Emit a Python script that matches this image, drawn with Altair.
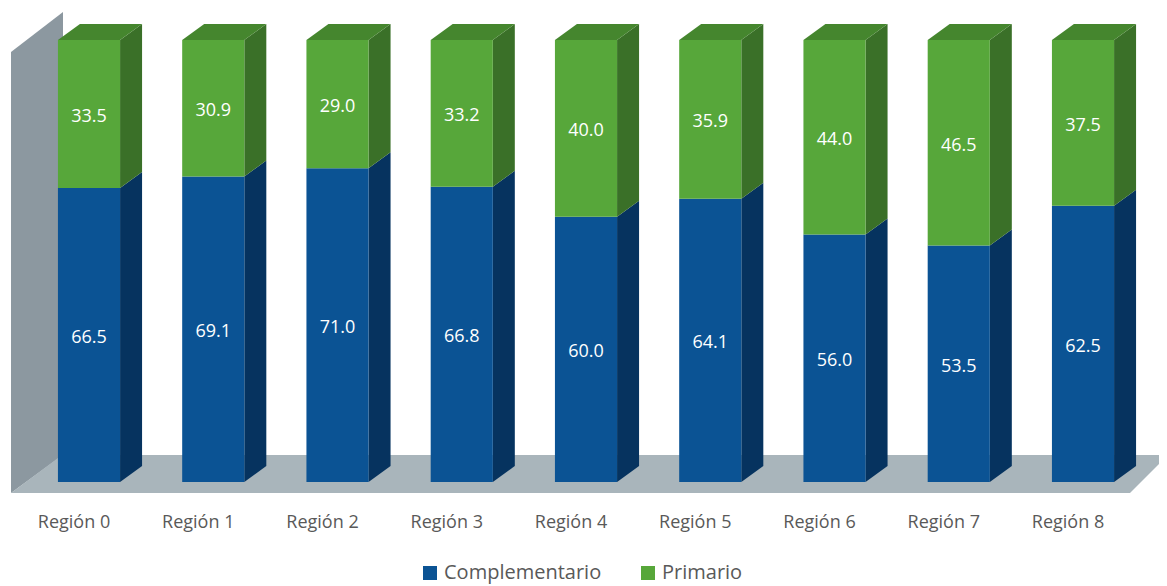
import altair as alt
import pandas as pd

# ---- data ----
regions = ["Región 0", "Región 1", "Región 2", "Región 3", "Región 4",
           "Región 5", "Región 6", "Región 7", "Región 8"]
complementario = [66.5, 69.1, 71.0, 66.8, 60.0, 64.1, 56.0, 53.5, 62.5]
primario = [33.5, 30.9, 29.0, 33.2, 40.0, 35.9, 44.0, 46.5, 37.5]
series_names = ["Complementario", "Primario"]

# ---- style / geometry ----
BLUE, BLUE_SIDE = "#0B5394", "#06335F"
GREEN, GREEN_SIDE, GREEN_TOP = "#57A73A", "#3A7028", "#45862E"
WALL, FLOOR = "#8C98A0", "#A9B5BB"
FONT = "Open Sans"

W, H = 1151, 578
PX_X, PX_Y = 124.25, 4.42          # pixels per data unit
X0 = -(89 - 8) / PX_X
X1 = X0 + W / PX_X
Y1 = (482 - 8) / PX_Y
Y0 = Y1 - H / PX_Y
HALF = 0.25                         # half bar width (category units)
DX = 22 / PX_X                      # depth offset x
DY = 16 / PX_Y                      # depth offset y

xs = alt.Scale(domain=[X0, X1], nice=False, zero=False)
ys = alt.Scale(domain=[Y0, Y1], nice=False, zero=False)

# ---- tables built from the arrays ----
front, side, top, lab = [], [], [], []
for i, (r, c, p) in enumerate(zip(regions, complementario, primario)):
    segs = [("Complementario", 0.0, c, BLUE_SIDE), ("Primario", c, c + p, GREEN_SIDE)]
    for name, s, e, sc in segs:
        front.append(dict(x=i - HALF, x2=i + HALF, y=s, y2=e, series=name))
        key = f"{i}-{name}"
        side.append(dict(k=key, x=i + HALF, y=s, y2=e, fill=sc))
        side.append(dict(k=key, x=i + HALF + DX, y=s + DY, y2=e + DY, fill=sc))
        lab.append(dict(x=i, y=(s + e) / 2, t=f"{e - s:.1f}"))
    tot = c + p
    top.append(dict(k=str(i), y=tot, x=i - HALF, x2=i + HALF, fill=GREEN_TOP))
    top.append(dict(k=str(i), y=tot + DY, x=i - HALF + DX, x2=i + HALF + DX, fill=GREEN_TOP))
cat = pd.DataFrame(dict(x=list(range(len(regions))), t=regions))

# floor & wall (decoration)
fy0, fy1 = (482 - 493) / PX_Y, (482 - 455) / PX_Y
floor = pd.DataFrame([
    dict(y=fy0, x=(11 - 89) / PX_X, x2=(1130 - 89) / PX_X),
    dict(y=fy1, x=(62 - 89) / PX_X, x2=(1168 - 89) / PX_X),
])
wall = pd.DataFrame([
    dict(x=(11 - 89) / PX_X, y=fy0, y2=(482 - 52) / PX_Y),
    dict(x=(63 - 89) / PX_X, y=fy1, y2=(482 - 12) / PX_Y),
])

wall_l = alt.Chart(wall).mark_area(color=WALL).encode(
    x=alt.X("x:Q", scale=xs, axis=None),
    y=alt.Y("y:Q", scale=ys, axis=None, stack=None), y2="y2:Q")
floor_l = alt.Chart(floor).mark_area(color=FLOOR, orient="horizontal").encode(
    y=alt.Y("y:Q", scale=ys, axis=None, stack=None),
    x=alt.X("x:Q", scale=xs, axis=None), x2="x2:Q")
side_l = alt.Chart(pd.DataFrame(side)).mark_area().encode(
    x=alt.X("x:Q", scale=xs, axis=None),
    y=alt.Y("y:Q", scale=ys, axis=None, stack=None), y2="y2:Q",
    detail="k:N", fill=alt.Fill("fill:N", scale=None))
top_l = alt.Chart(pd.DataFrame(top)).mark_area(orient="horizontal").encode(
    y=alt.Y("y:Q", scale=ys, axis=None, stack=None),
    x=alt.X("x:Q", scale=xs, axis=None), x2="x2:Q",
    detail="k:N", fill=alt.Fill("fill:N", scale=None))
front_l = alt.Chart(pd.DataFrame(front)).mark_rect().encode(
    x=alt.X("x:Q", scale=xs, axis=None), x2="x2:Q",
    y=alt.Y("y:Q", scale=ys, axis=None), y2="y2:Q",
    color=alt.Color("series:N",
                    scale=alt.Scale(domain=series_names, range=[BLUE, GREEN]),
                    legend=alt.Legend(orient="none", legendX=412, legendY=555,
                                      direction="horizontal", title=None,
                                      symbolType="square", symbolSize=196,
                                      symbolStrokeWidth=0, labelFont=FONT,
                                      labelFontSize=20, labelColor="#595959",
                                      labelLimit=400,
                                      labelOffset=4, columnPadding=36)))
lab_l = alt.Chart(pd.DataFrame(lab)).mark_text(
    color="white", font=FONT, fontSize=18, baseline="middle", dy=3).encode(
    x=alt.X("x:Q", scale=xs, axis=None), y=alt.Y("y:Q", scale=ys, axis=None),
    text="t:N")
cat_l = alt.Chart(cat).mark_text(
    color="#595959", font=FONT, fontSize=18, baseline="middle", dx=-15).encode(
    x=alt.X("x:Q", scale=xs, axis=None),
    y=alt.value(523 - 8), text="t:N")

chart = alt.layer(wall_l, floor_l, side_l, top_l, front_l, lab_l, cat_l).properties(
    width=W, height=H, padding=0,
    autosize=alt.AutoSizeParams(type="none"),
).configure_view(stroke=None)

chart.save("out.html", embed_options={"renderer": "svg", "actions": False})
